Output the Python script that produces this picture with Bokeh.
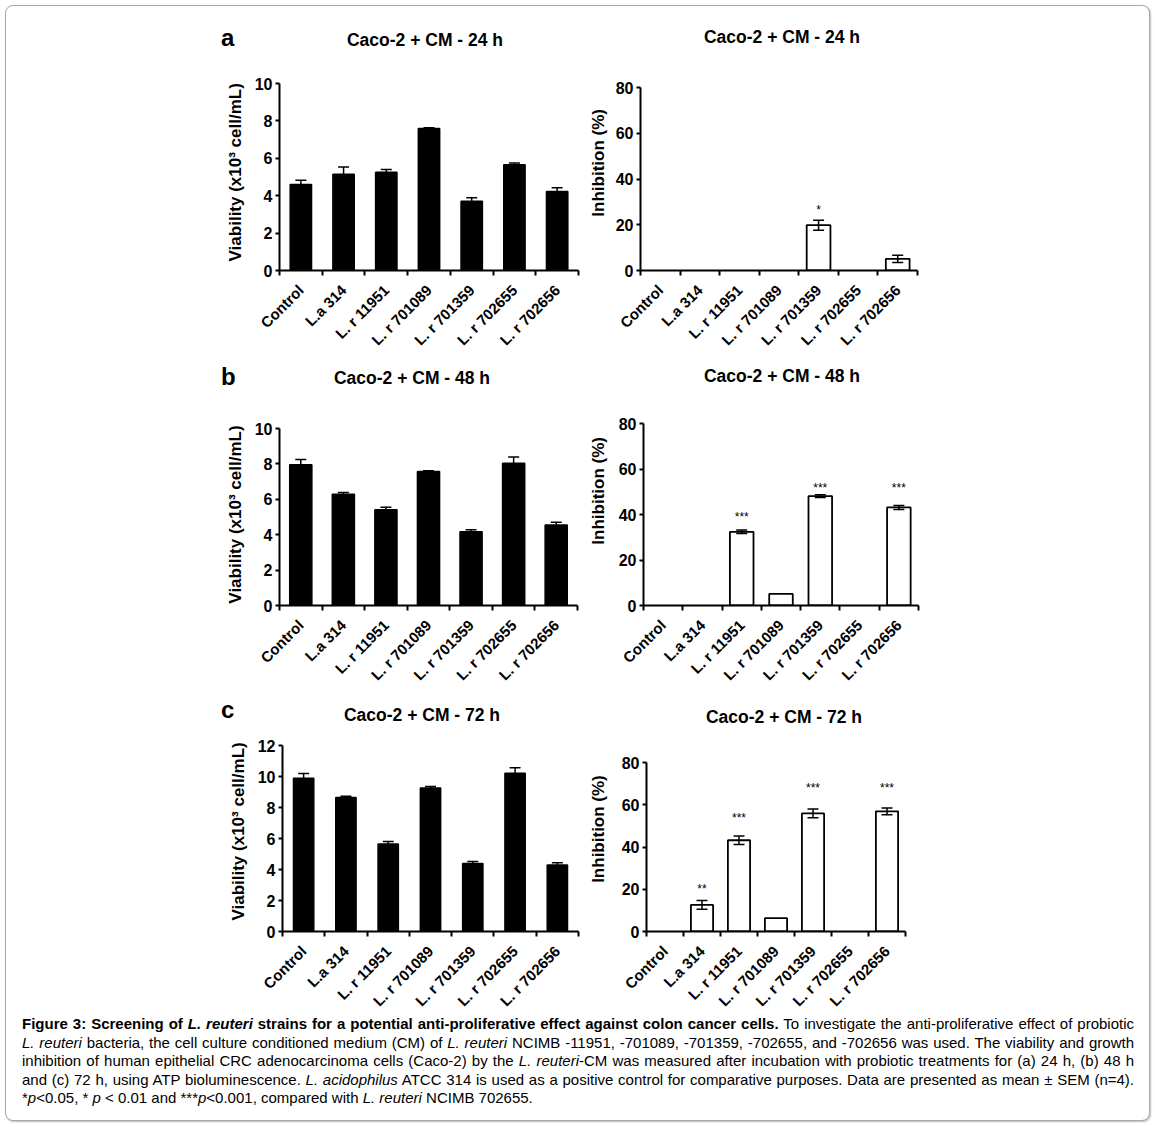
import numpy as np
from bokeh.plotting import figure
from bokeh.layouts import row, column
from bokeh.models import Range1d, FixedTicker, Whisker, TeeHead, ColumnDataSource, Div
from bokeh.core.properties import value
from bokeh.embed import file_html
from bokeh.resources import INLINE

# ---------------- data ----------------
categories = ["Control", "L.a 314", "L. r 11951", "L. r 701089",
              "L. r 701359", "L. r 702655", "L. r 702656"]

via_24 = [4.60, 5.15, 5.26, 7.60, 3.70, 5.66, 4.22]
via_24_err = [0.23, 0.38, 0.14, 0.04, 0.19, 0.09, 0.20]
inh_24 = [0, 0, 0, 0, 19.8, 0, 5.1]
inh_24_err = [0, 0, 0, 0, 2.2, 0, 1.6]

via_48 = [7.95, 6.29, 5.41, 7.57, 4.16, 8.03, 4.55]
via_48_err = [0.30, 0.09, 0.14, 0.05, 0.12, 0.36, 0.15]
inh_48 = [0, 0, 32.4, 5.1, 48.1, 0, 43.1]
inh_48_err = [0, 0, 0.8, 0, 0.6, 0, 0.9]

via_72 = [9.89, 8.65, 5.64, 9.26, 4.38, 10.21, 4.29]
via_72_err = [0.31, 0.07, 0.17, 0.09, 0.14, 0.36, 0.15]
inh_72 = [0, 12.6, 43.2, 6.3, 55.9, 0, 56.9]
inh_72_err = [0, 2.1, 2.0, 0, 2.1, 0, 1.6]

star_24_idx = [4]
star_24_y = [27.2]
star_24_text = ["*"]
star_48_idx = [2, 4, 6]
star_48_y = [39.8, 52.7, 52.7]
star_48_text = ["***", "***", "***"]
star_72_idx = [1, 2, 4, 6]
star_72_y = [21.1, 54.8, 68.8, 68.8]
star_72_text = ["**", "***", "***", "***"]

via_ticks_10 = [0, 2, 4, 6, 8, 10]
via_ticks_12 = [0, 2, 4, 6, 8, 10, 12]
inh_ticks = [0, 20, 40, 60, 80]

titles = ["Caco-2 + CM - 24 h", "Caco-2 + CM - 48 h", "Caco-2 + CM - 72 h"]
panel_letters = ["a", "b", "c"]
via_label = "Viability (x10\u00b3 cell/mL)"
inh_label = "Inhibition (%)"

caption_lines = [
    "<b>Figure 3: Screening of <i>L. reuteri</i> strains for a potential anti-proliferative effect against colon cancer cells.</b> "
    "To investigate the anti-proliferative effect of probiotic",
    "<i>L. reuteri</i> bacteria, the cell culture conditioned medium (CM) of <i>L. reuteri</i> NCIMB -11951, -701089, -701359, "
    "-702655, and -702656 was used. The viability and growth",
    "inhibition of human epithelial CRC adenocarcinoma cells (Caco-2) by the <i>L. reuteri</i>-CM was measured after incubation "
    "with probiotic treatments for (a) 24 h, (b) 48 h",
    "and (c) 72 h, using ATP bioluminescence. <i>L. acidophilus</i> ATCC 314 is used as a positive control for comparative "
    "purposes. Data are presented as mean \u00b1 SEM (n=4).",
    "*<i>p</i>&lt;0.05, * <i>p</i> &lt; 0.01 and ***<i>p</i>&lt;0.001, compared with <i>L. reuteri</i> NCIMB 702655.",
]

FONT = "Liberation Sans"


def panel(vals, errs, ymax, yticks, kind, W, H, L, R, T, B,
          top_px, ylab, lab_standoff, lab_pad, bar_w, stars=None):
    """Frame spans T..H-B (pixels from figure top); value 0 sits on the frame
    bottom and ymax at top_px (pixels from figure top)."""
    f_top, f_bot = T, H - B
    ppu = (f_bot - top_px) / ymax
    y_end = ymax + (top_px - f_top) / ppu
    p = figure(width=W, height=H, x_range=Range1d(-0.5, len(categories) - 0.5),
               y_range=Range1d(0, y_end), output_backend="svg",
               toolbar_location=None, title=None, min_border_left=L,
               min_border_right=R, min_border_top=T, min_border_bottom=B, tools="")
    p.xgrid.visible = False
    p.ygrid.visible = False
    p.outline_line_color = None
    p.background_fill_color = "white"
    p.border_fill_color = "white"

    idx = list(range(len(categories)))
    # y axis
    p.yaxis.ticker = FixedTicker(ticks=yticks)
    p.yaxis.bounds = (0, ymax)
    p.yaxis.axis_line_width = 2
    p.yaxis.axis_line_color = "black"
    p.yaxis.major_tick_in = 0
    p.yaxis.major_tick_out = 4
    p.yaxis.major_tick_line_width = 2
    p.yaxis.minor_tick_line_color = None
    p.yaxis.major_label_text_font = FONT
    p.yaxis.major_label_text_font_style = "bold"
    p.yaxis.major_label_text_font_size = "16px"
    p.yaxis.major_label_text_color = "black"
    p.yaxis.major_label_standoff = 3
    p.yaxis.axis_label = "\u00a0" * lab_pad + ylab
    p.yaxis.axis_label_text_font = FONT
    p.yaxis.axis_label_text_font_style = "bold"
    p.yaxis.axis_label_text_font_size = "17px"
    p.yaxis.axis_label_text_color = "black"
    p.yaxis.axis_label_standoff = lab_standoff
    # x axis
    p.xaxis.ticker = FixedTicker(ticks=idx,
                                 minor_ticks=[i - 0.5 for i in range(len(categories) + 1)])
    p.xaxis.major_label_overrides = {i: c for i, c in enumerate(categories)}
    p.xaxis.axis_line_width = 2
    p.xaxis.axis_line_color = "black"
    p.xaxis.major_tick_line_color = None
    p.xaxis.major_tick_in = 0
    p.xaxis.major_tick_out = 0
    p.xaxis.minor_tick_in = 0
    p.xaxis.minor_tick_out = 5
    p.xaxis.minor_tick_line_width = 2
    p.xaxis.minor_tick_line_color = "black"
    p.xaxis.major_label_orientation = np.pi / 4
    p.xaxis.major_label_text_font = FONT
    p.xaxis.major_label_text_font_style = "bold"
    p.xaxis.major_label_text_font_size = "15px"
    p.xaxis.major_label_text_color = "black"
    p.xaxis.major_label_standoff = 12

    sel = [i for i in idx if vals[i] > 0]
    src = ColumnDataSource(dict(x=sel, top=[vals[i] for i in sel]))
    if kind == "via":
        p.vbar(x="x", top="top", width=bar_w, bottom=0, source=src,
               fill_color="black", line_color="black", line_width=1.5)
    else:
        p.vbar(x="x", top="top", width=bar_w, bottom=0, source=src,
               fill_color="white", line_color="black", line_width=1.8)

    esel = [i for i in idx if errs[i] > 0]
    esrc = ColumnDataSource(dict(x=esel,
                                 upper=[vals[i] + errs[i] for i in esel],
                                 lower=[vals[i] - errs[i] for i in esel]))
    w = Whisker(source=esrc, base="x", upper="upper", lower="lower",
                line_color="black", line_width=1.5, level="overlay",
                upper_head=TeeHead(size=11, line_color="black", line_width=1.5),
                lower_head=TeeHead(size=11, line_color="black", line_width=1.5))
    p.add_layout(w)

    if stars is not None:
        sidx, sy, stext = stars
        ssrc = ColumnDataSource(dict(x=sidx, y=sy, t=stext))
        p.text(x="x", y="y", text="t", source=ssrc, text_font=value(FONT),
               text_font_size="12px", text_align="center", text_baseline="middle",
               y_offset=2, text_color="black")
    return p


def band(height, items):
    parts = ""
    for txt, left, top, size, lh, center in items:
        tr = "transform:translateX(-50%);" if center else ""
        parts += (f'<div style="position:absolute;left:{left}px;top:{top}px;font-size:{size}px;'
                  f'line-height:{lh}px;font-weight:bold;white-space:nowrap;{tr}">{txt}</div>')
    html = (f'<div style="position:relative;width:1143px;height:{height}px;'
            f'font-family:\'Liberation Sans\',Arial,sans-serif;color:#000;">{parts}</div>')
    return Div(text=html, width=1143, height=height, margin=(0, 0, 0, 0))


band_a = band(56, [(panel_letters[0], 215, 21.7, 24, 20, False),
                   (titles[0], 419, 24, 17.5, 20, True),
                   (titles[0], 776, 21, 17.5, 20, True)])
band_b = band(39, [(panel_letters[1], 215, 3.7, 24, 20, False),
                   (titles[1], 406, 5, 17.5, 20, True),
                   (titles[1], 776, 3, 17.5, 20, True)])
band_c = band(30, [(panel_letters[2], 215, 0, 24, 20, False),
                   (titles[2], 416, 5, 17.5, 20, True),
                   (titles[2], 778, 7, 17.5, 20, True)])

# row a: figures 62..363 (page y); frame 83..270
pa1 = panel(via_24, via_24_err, 10, via_ticks_10, "via", 579, 301, 273, 7, 21, 93,
            83 - 62, via_label, 7, 2, 0.5)
pa2 = panel(inh_24, inh_24_err, 80, inh_ticks, "inh", 564, 301, 54, 232, 21, 93,
            87 - 62, inh_label, 5, 6, 0.6,
            stars=(star_24_idx, star_24_y, star_24_text))
# row b: figures 402..700; frame 423..605
pb1 = panel(via_48, via_48_err, 10, via_ticks_10, "via", 579, 298, 273, 8, 21, 95,
            428 - 402, via_label, 7, 0, 0.52)
pb2 = panel(inh_48, inh_48_err, 80, inh_ticks, "inh", 564, 298, 56, 231, 21, 95,
            423 - 402, inh_label, 8, 10, 0.6,
            stars=(star_48_idx, star_48_y, star_48_text))
# row c: figures 730..1024; frame 745..931
pc1 = panel(via_72, via_72_err, 12, via_ticks_12, "via", 579, 294, 276, 7, 15, 93,
            745 - 730, via_label, 7, 3, 0.48)
pc2 = panel(inh_72, inh_72_err, 80, inh_ticks, "inh", 564, 294, 60, 244, 15, 93,
            762 - 730, inh_label, 11, 4, 0.6,
            stars=(star_72_idx, star_72_y, star_72_text))

just = "text-align:justify;text-align-last:justify;white-space:normal;"
inner = "".join(f'<div style="{just}">{l}</div>' for l in caption_lines[:-1])
inner += f'<div style="white-space:nowrap;">{caption_lines[-1]}</div>'
html = ('<div style="font-family:\'Liberation Sans\',Arial,sans-serif;font-size:15px;'
        'line-height:18.5px;color:#000;box-sizing:content-box;padding:1px 15px 0 16px;'
        'width:1112px;">' + inner + '</div>')
cap = Div(text=html, width=1143, height=106, margin=(-10, 0, 0, 0))

layout = column(band_a, row(pa1, pa2), band_b, row(pb1, pb2), band_c, row(pc1, pc2), cap,
                styles={"border": "1px solid #a8a8a8", "border-radius": "8px",
                        "box-shadow": "1px 1px 2px #bbbbbb", "background": "white",
                        "margin-left": "5px", "margin-top": "5px"})

open("out.html", "w").write(file_html(layout, INLINE))
